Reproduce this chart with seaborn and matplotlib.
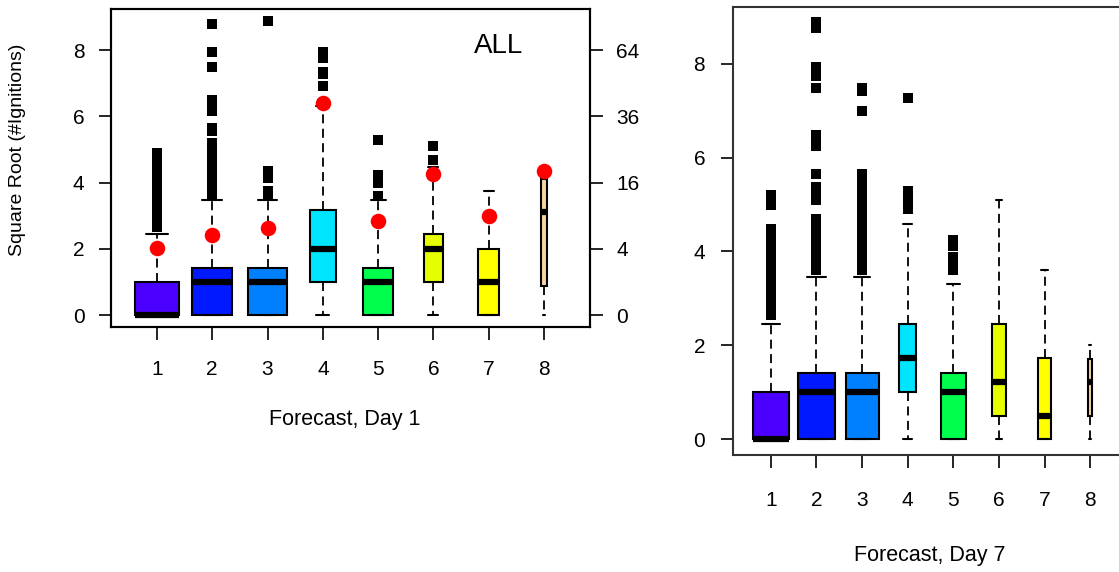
import numpy as np
import matplotlib
matplotlib.use("Agg")
import matplotlib.pyplot as plt
import seaborn as sns

# === Datos (eje en raíz cuadrada del nº de igniciones) ===
forecast = [1, 2, 3, 4, 5, 6, 7, 8]
colores = ["#4B00FF", "#0019FF", "#0080FF", "#00E5FF",
           "#00FF4D", "#E6FF00", "#FFFF00", "#F5D5A0"]

# Día 1
d1_q1 = [0.0, 0.0, 0.0, 1.0, 0.0, 1.0, 0.0, 0.88]
d1_med = [0.0, 1.0, 1.0, 2.0, 1.0, 2.0, 1.0, 3.1]
d1_q3 = [1.0, 1.414, 1.414, 3.162, 1.414, 2.449, 2.0, 4.11]
d1_lo = [0.0, 0.0, 0.0, 0.0, 0.0, 0.0, 0.0, 0.0]
d1_hi = [2.449, 3.464, 3.464, 6.325, 3.464, 4.472, 3.742, 4.36]
d1_ancho = [0.81, 0.72, 0.71, 0.46, 0.55, 0.36, 0.38, 0.10]
d1_media = [2.01, 2.43, 2.64, 6.39, 2.84, 4.25, 2.99, 4.36]
# atípicos en nº de igniciones
d1_atip = {
    1: [7, 8, 9, 10, 11, 12, 13, 14, 15, 16, 17, 18, 19, 20, 21, 22, 23, 24],
    2: [13, 14, 15, 16, 17, 18, 19, 20, 21, 22, 23, 24, 25, 26, 27,
        31, 32, 38, 40, 42, 56, 63, 77],
    3: [13, 14, 17, 18, 19, 79],
    4: [48, 53, 54, 60, 63],
    5: [13, 16, 17, 18, 28],
    6: [22, 26],
    7: [],
    8: [],
}

# Día 7
d7_q1 = [0.0, 0.0, 0.0, 1.0, 0.0, 0.5, 0.0, 0.5]
d7_med = [0.0, 1.0, 1.0, 1.732, 1.0, 1.207, 0.5, 1.207]
d7_q3 = [1.0, 1.414, 1.414, 2.449, 1.414, 2.449, 1.732, 1.71]
d7_lo = [0.0, 0.0, 0.0, 0.0, 0.0, 0.0, 0.0, 0.0]
d7_hi = [2.449, 3.464, 3.464, 4.583, 3.317, 5.1, 3.606, 2.0]
d7_ancho = [0.80, 0.80, 0.72, 0.37, 0.55, 0.29, 0.29, 0.09]
d7_atip = {
    1: [7, 8, 9, 10, 11, 12, 13, 14, 15, 16, 17, 18, 19, 20, 25, 26, 27],
    2: [13, 14, 15, 16, 17, 18, 19, 20, 21, 22, 26, 27, 28, 29, 32,
        39, 40, 41, 42, 56, 60, 63, 77, 78, 79],
    3: [13, 14, 15, 16, 17, 18, 19, 20, 21, 22, 23, 24, 25, 26, 27, 28,
        29, 30, 31, 32, 49, 55, 56],
    4: [24, 25, 26, 27, 28, 53],
    5: [13, 14, 15, 17, 18],
    6: [],
    7: [],
    8: [],
}

ticks_der = [0, 2, 4, 6, 8]
etiquetas_der = ["0", "4", "16", "36", "64"]

# === Estilo ===
sns.set_style("ticks")
plt.rcParams["font.family"] = ["Liberation Sans", "DejaVu Sans"]
plt.rcParams["text.color"] = "black"
plt.rcParams["xtick.color"] = "black"
plt.rcParams["ytick.color"] = "black"
plt.rcParams["axes.labelcolor"] = "black"
plt.rcParams["lines.scale_dashes"] = True


def dibujar_cajas(ax, q1, med, q3, lo, hi, ancho, atip):
    stats = []
    for i in range(len(forecast)):
        stats.append({"q1": q1[i], "med": med[i], "q3": q3[i],
                      "whislo": lo[i], "whishi": hi[i], "fliers": []})
    res = ax.bxp(stats, positions=forecast, widths=ancho,
                 capwidths=[a * 0.5 for a in ancho],
                 patch_artist=True, showfliers=False,
                 boxprops=dict(linewidth=1.5, edgecolor="black"),
                 medianprops=dict(color="black", linewidth=4.5, solid_capstyle="butt"),
                 whiskerprops=dict(color="black", linewidth=1.3, linestyle=(0, (5, 3))),
                 capprops=dict(color="black", linewidth=1.5),
                 manage_ticks=False)
    for caja, c in zip(res["boxes"], colores):
        caja.set_facecolor(c)
    xs, ys = [], []
    for k, vals in atip.items():
        xs += [k] * len(vals)
        ys += list(np.sqrt(vals))
    if xs:
        sns.scatterplot(x=xs, y=ys, ax=ax, marker="s", s=56, color="black",
                        linewidth=0, zorder=4, legend=False)


fig = plt.figure(figsize=(11.19, 5.72), dpi=100)

# === Panel izquierdo: Día 1 ===
ax1 = fig.add_axes([111 / 1119, 1 - 327 / 572, (590 - 111) / 1119, (327 - 9.3) / 572])
dibujar_cajas(ax1, d1_q1, d1_med, d1_q3, d1_lo, d1_hi, d1_ancho, d1_atip)
sns.scatterplot(x=forecast, y=d1_media, ax=ax1, color="red", s=125,
                linewidth=0, zorder=5, legend=False)
ax1.set_xlim(0.17, 8.83)
ax1.set_ylim(-0.36, 9.23)
ax1.set_xticks(forecast)
ax1.set_yticks([0, 2, 4, 6, 8])
ax1.tick_params(axis="x", length=9, width=1.2, pad=14.5, labelsize=15)
ax1.tick_params(axis="y", length=9, width=1.2, pad=10, labelsize=15)
for s in ax1.spines.values():
    s.set_linewidth(1.5)
    s.set_color("black")
ax1.text(0.81, 0.885, "ALL", transform=ax1.transAxes, fontsize=20, ha="center", va="center")

ax1b = ax1.twinx()
ax1b.set_ylim(ax1.get_ylim())
ax1b.set_yticks(ticks_der)
ax1b.set_yticklabels(etiquetas_der)
ax1b.tick_params(axis="y", length=9, width=1.2, pad=10, labelsize=15)
for s in ax1b.spines.values():
    s.set_linewidth(1.5)
    s.set_color("black")

fig.text(18 / 1119, 1 - 150 / 572, "Square Root (#Ignitions)", rotation=90,
         fontsize=14, ha="center", va="center")
fig.text(345 / 1119, 1 - 419 / 572, "Forecast, Day 1", fontsize=15.5, ha="center", va="center")

# === Panel derecho: Día 7 ===
ax2 = fig.add_axes([733 / 1119, 1 - 455 / 572, (1128 - 733) / 1119, (455 - 6.7) / 572])
dibujar_cajas(ax2, d7_q1, d7_med, d7_q3, d7_lo, d7_hi, d7_ancho, d7_atip)
ax2.set_xlim(0.17, 8.83)
ax2.set_ylim(-0.34, 9.22)
ax2.set_xticks(forecast)
ax2.set_yticks([0, 2, 4, 6, 8])
ax2.tick_params(axis="x", length=9, width=1.2, pad=17, labelsize=15)
ax2.tick_params(axis="y", length=9, width=1.2, pad=11, labelsize=15)
for s in ax2.spines.values():
    s.set_linewidth(1.5)
    s.set_color("#333333")

fig.text(930 / 1119, 1 - 555 / 572, "Forecast, Day 7", fontsize=15.5, ha="center", va="center")

plt.savefig("out.png", dpi=100)
plt.close()
